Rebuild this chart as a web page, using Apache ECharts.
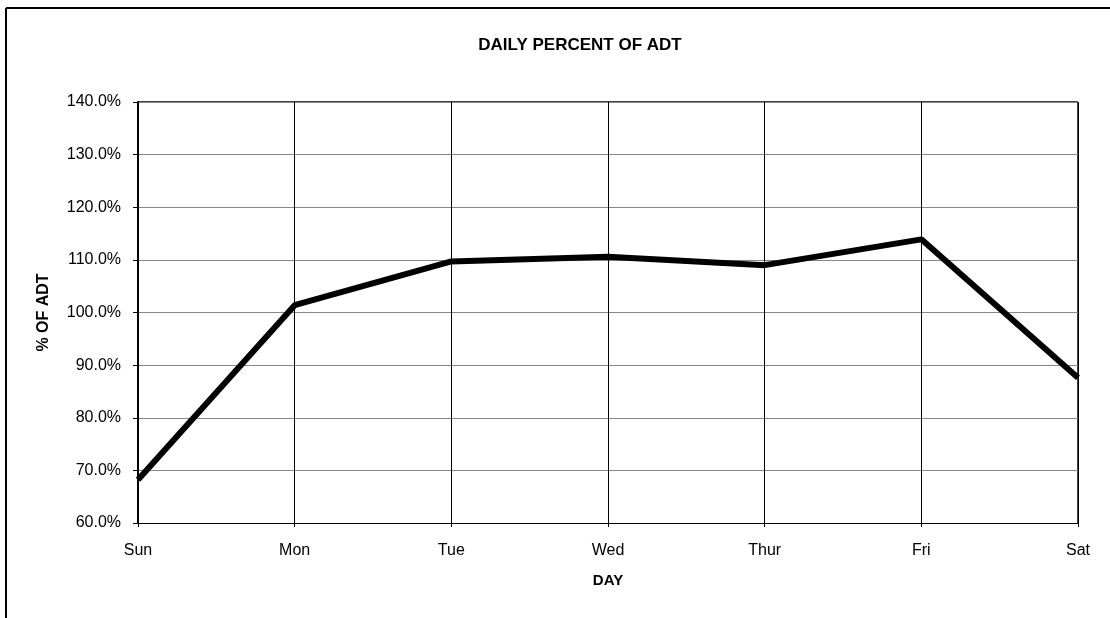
<!DOCTYPE html>
<html>
<head>
<meta charset="utf-8">
<script src="https://cdn.jsdelivr.net/npm/echarts@6/dist/echarts.min.js"></script>
<style>
  html, body { margin: 0; padding: 0; background: #fff; }
  #main { width: 1110px; height: 618px; }
</style>
</head>
<body>
<div id="main"></div>
<script>
// data
var days = ['Sun', 'Mon', 'Tue', 'Wed', 'Thur', 'Fri', 'Sat'];
var pctOfAdt = [68.2, 101.4, 109.7, 110.6, 109.0, 113.9, 87.6];
var yMin = 60, yMax = 140, yStep = 10;

var chart = echarts.init(document.getElementById('main'));

var option = {
    animation: false,
    backgroundColor: '#fff',
    textStyle: { fontFamily: 'Liberation Sans, Arial, sans-serif', color: '#000' },
    title: {
        text: 'DAILY PERCENT OF ADT',
        left: 575,
        textAlign: 'center',
        top: 32,
        textStyle: { fontSize: 17, fontWeight: 'bold', color: '#000', fontFamily: 'Liberation Sans, Arial, sans-serif' }
    },
    grid: { left: 138, right: 32, top: 102, bottom: 95 },
    xAxis: {
        type: 'category',
        data: days,
        boundaryGap: false,
        name: 'DAY',
        nameLocation: 'middle',
        nameGap: 50,
        nameTextStyle: { fontSize: 15, fontWeight: 'bold', color: '#000' },
        axisLine: { lineStyle: { color: '#000', width: 1 } },
        axisTick: { show: true, length: 4, lineStyle: { color: '#000' } },
        axisLabel: { fontSize: 16, color: '#000', margin: 20 },
        splitLine: { show: true, lineStyle: { color: '#000', width: 1 } }
    },
    yAxis: {
        type: 'value',
        min: yMin,
        max: yMax,
        interval: yStep,
        name: '% OF ADT',
        nameLocation: 'middle',
        nameGap: 86,
        nameRotate: 90,
        nameTextStyle: { fontSize: 16, fontWeight: 'bold', color: '#000' },
        axisLine: { show: true, lineStyle: { color: '#000', width: 2 } },
        axisTick: { show: true, length: 5, lineStyle: { color: '#000' } },
        axisLabel: {
            fontSize: 16,
            color: '#000',
            margin: 17,
            formatter: function (v) { return v.toFixed(1) + '%'; }
        },
        splitLine: { show: true, lineStyle: { color: '#888', width: 1 } }
    },
    graphic: [
        { type: 'line', shape: { x1: 6, y1: 8, x2: 1110, y2: 8 }, style: { stroke: '#000', lineWidth: 2 } },
        { type: 'line', shape: { x1: 6, y1: 8, x2: 6, y2: 618 }, style: { stroke: '#000', lineWidth: 2 } },
        { type: 'line', shape: { x1: 138, y1: 102, x2: 1078, y2: 102 }, style: { stroke: '#000', lineWidth: 1.5 } },
        { type: 'line', shape: { x1: 1078, y1: 102, x2: 1078, y2: 523 }, style: { stroke: '#000', lineWidth: 1.5 } }
    ],
    series: [{
        type: 'line',
        data: pctOfAdt,
        symbol: 'none',
        lineStyle: { color: '#000', width: 6 },
        z: 5
    }]
};

chart.setOption(option);
</script>
</body>
</html>
